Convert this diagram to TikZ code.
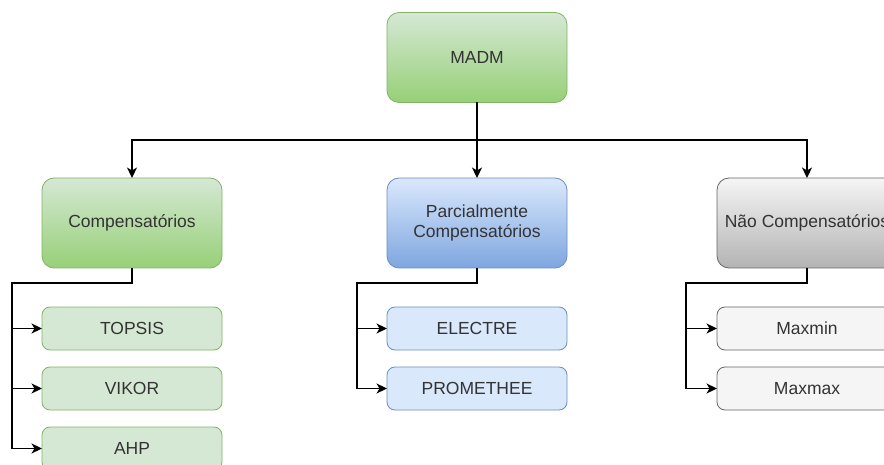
\documentclass[tikz,border=0pt]{standalone}
\usepackage{fontspec}
\setmainfont{Liberation Sans}
\usetikzlibrary{arrows.meta}
\definecolor{gfill}{HTML}{D5E8D4}
\definecolor{ggrad}{HTML}{97D077}
\definecolor{gline}{HTML}{82B366}
\definecolor{bfill}{HTML}{DAE8FC}
\definecolor{bgrad}{HTML}{7EA6E0}
\definecolor{bline}{HTML}{6C8EBF}
\definecolor{kfill}{HTML}{F5F5F5}
\definecolor{kgrad}{HTML}{B3B3B3}
\definecolor{kline}{HTML}{666666}
\definecolor{txt}{HTML}{333333}
\begin{document}
\begin{tikzpicture}[x=1pt,y=-1pt,
  base/.style={rounded corners=12pt, minimum width=180pt, inner sep=0pt, outer sep=0pt,
    align=center, text=txt, font=\fontsize{17.5}{20}\selectfont, line width=0.8pt},
  topbox/.style={base, minimum height=90pt},
  leafbox/.style={base, rounded corners=8pt, minimum height=43pt},
  gtop/.style={top color=gfill, bottom color=ggrad, draw=gline},
  btop/.style={top color=bfill, bottom color=bgrad, draw=bline},
  ktop/.style={top color=kfill, bottom color=kgrad, draw=kline},
  gleaf/.style={fill=gfill, draw=gline},
  bleaf/.style={fill=bfill, draw=bline},
  kleaf/.style={fill=kfill, draw=kline},
  arr/.style={draw=black, line width=1.3pt, -{Stealth[length=10.5pt,width=10pt,inset=3pt]}}
]
\useasboundingbox (0,0) rectangle (884,465);
\clip (0,0) rectangle (884,465);
\fill[white] (0,0) rectangle (884,465);

\node[topbox,gtop] (madm) at (477,57.5) {MADM};
\node[topbox,gtop] (comp) at (132,223) {Compensatórios};
\node[topbox,btop] (parc) at (477,223) {Parcialmente\\Compensatórios};
\node[topbox,ktop] (nao) at (807,223) {Não Compensatórios};

\node[leafbox,gleaf] (topsis) at (132,328.5) {TOPSIS};
\node[leafbox,gleaf] (vikor) at (132,388.5) {VIKOR};
\node[leafbox,gleaf] (ahp) at (132,448.5) {AHP};
\node[leafbox,bleaf] (electre) at (477,328.5) {ELECTRE};
\node[leafbox,bleaf] (prom) at (477,388.5) {PROMETHEE};
\node[leafbox,kleaf] (maxmin) at (807,328.5) {Maxmin};
\node[leafbox,kleaf] (maxmax) at (807,388.5) {Maxmax};

\coordinate (hub) at (477,140);
\coordinate (cbus) at (12,283);
\coordinate (pbus) at (357,283);
\coordinate (kbus) at (686,283);

\draw[arr] (madm.south) -- (parc.north);
\draw[arr] (madm.south) |- (hub) -| (comp.north);
\draw[arr] (madm.south) |- (hub) -| (nao.north);

\draw[arr] (comp.south) |- (cbus) |- (topsis.west);
\draw[arr] (comp.south) |- (cbus) |- (vikor.west);
\draw[arr] (comp.south) |- (cbus) |- (ahp.west);
\draw[arr] (parc.south) |- (pbus) |- (electre.west);
\draw[arr] (parc.south) |- (pbus) |- (prom.west);
\draw[arr] (nao.south) |- (kbus) |- (maxmin.west);
\draw[arr] (nao.south) |- (kbus) |- (maxmax.west);
\end{tikzpicture}
\end{document}
